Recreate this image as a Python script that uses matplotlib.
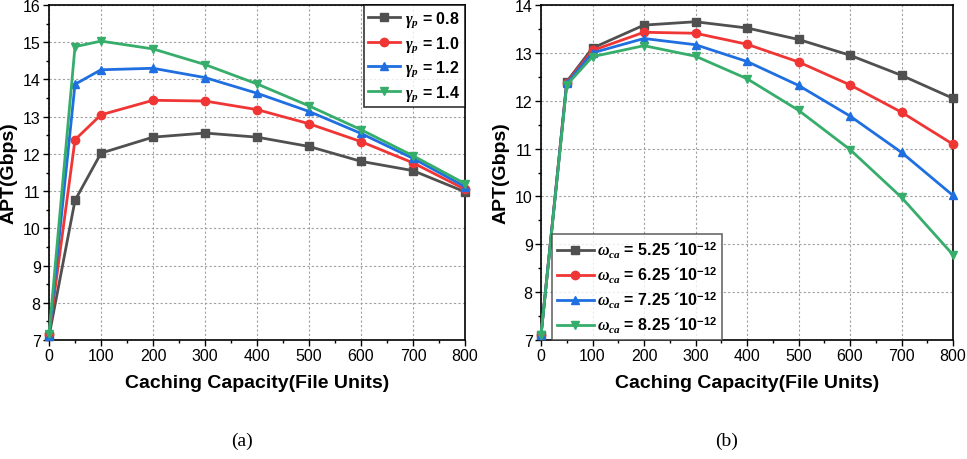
import matplotlib
matplotlib.use("Agg")
import matplotlib.pyplot as plt
from matplotlib.ticker import MultipleLocator

plt.rcParams['font.family'] = ['Liberation Sans', 'DejaVu Sans']
plt.rcParams['mathtext.fontset'] = 'custom'
plt.rcParams['mathtext.it'] = 'Liberation Serif:italic:bold'
plt.rcParams['mathtext.rm'] = 'Liberation Sans:bold'

capacity = [0, 50, 100, 200, 300, 400, 500, 600, 700, 800]

# panel (a): different gamma_p
gamma_labels = ['0.8', '1.0', '1.2', '1.4']
apt_g08 = [7.10, 10.75, 12.02, 12.45, 12.56, 12.45, 12.20, 11.80, 11.55, 10.98]
apt_g10 = [7.15, 12.38, 13.05, 13.44, 13.42, 13.19, 12.81, 12.33, 11.76, 11.05]
apt_g12 = [7.10, 13.87, 14.26, 14.30, 14.05, 13.63, 13.14, 12.55, 11.88, 11.12]
apt_g14 = [7.15, 14.88, 15.03, 14.82, 14.40, 13.88, 13.29, 12.65, 11.95, 11.20]

# panel (b): different omega_ca
omega_labels = ['5.25', '6.25', '7.25', '8.25']
apt_w525 = [7.10, 12.40, 13.10, 13.58, 13.65, 13.52, 13.28, 12.95, 12.53, 12.05]
apt_w625 = [7.10, 12.38, 13.05, 13.43, 13.41, 13.18, 12.81, 12.33, 11.76, 11.09]
apt_w725 = [7.10, 12.36, 13.00, 13.30, 13.17, 12.82, 12.32, 11.68, 10.92, 10.02]
apt_w825 = [7.10, 12.33, 12.92, 13.15, 12.93, 12.46, 11.80, 10.98, 9.98, 8.78]

colors = ['#505050', '#f03535', '#1f6fe0', '#36ad6a']
markers = ['s', 'o', '^', 'v']

W, H = 967, 460
fig = plt.figure(figsize=(W / 100, H / 100), dpi=100)
ax1 = fig.add_axes([49 / W, 1 - 341 / H, 416 / W, 335 / H])
ax2 = fig.add_axes([541 / W, 1 - 341 / H, 412 / W, 335 / H])


def style(ax, ymin, ymax):
    ax.set_xlim(0, 800)
    ax.set_ylim(ymin, ymax)
    ax.xaxis.set_major_locator(MultipleLocator(100))
    ax.xaxis.set_minor_locator(MultipleLocator(50))
    ax.yaxis.set_major_locator(MultipleLocator(1))
    ax.yaxis.set_minor_locator(MultipleLocator(0.5))
    ax.grid(True, which='major', linestyle=(0, (2, 2)), color='#a0a0a0', linewidth=0.8)
    ax.tick_params(which='major', direction='out', length=4, width=1, labelsize=11.5, pad=2)
    ax.tick_params(which='minor', direction='out', length=2.5, width=1)
    for s in ax.spines.values():
        s.set_linewidth(1.2)
    ax.set_xlabel('Caching Capacity(File Units)', fontsize=14, fontweight='bold', labelpad=8)
    ax.set_ylabel('APT(Gbps)', fontsize=14, fontweight='bold', labelpad=4)


series_a = [apt_g08, apt_g10, apt_g12, apt_g14]
for i, ys in enumerate(series_a):
    ax1.plot(capacity, ys, color=colors[i], marker=markers[i], markersize=6,
             linewidth=2, clip_on=False, zorder=3,
             label=r'$\gamma_p$ = ' + gamma_labels[i])
style(ax1, 7, 16)
leg1 = ax1.legend(loc='upper right', prop={'weight': 'bold', 'size': 11.5},
                  frameon=True, fancybox=False, edgecolor='black', borderaxespad=0,
                  handlelength=2.0, handletextpad=0.3, labelspacing=0.3, borderpad=0.3)
leg1.get_frame().set_linewidth(1.2)

series_b = [apt_w525, apt_w625, apt_w725, apt_w825]
for i, ys in enumerate(series_b):
    ax2.plot(capacity, ys, color=colors[i], marker=markers[i], markersize=6,
             linewidth=2, clip_on=False, zorder=3,
             label=r'$\omega_{ca}$ = ' + omega_labels[i] + ' \u00b4' + r'10$^{-12}$')
style(ax2, 7, 14)
leg2 = ax2.legend(loc='lower left', bbox_to_anchor=(0.027, 0.0),
                  prop={'weight': 'bold', 'size': 11.5},
                  frameon=True, fancybox=False, edgecolor='#444444', borderaxespad=0,
                  handlelength=2.3, handletextpad=0.2, labelspacing=0.3, borderpad=0.3)
leg2.get_frame().set_linewidth(1.2)

fig.text(242 / W, 1 - 441 / H, '(a)', family='Liberation Serif', fontsize=14, ha='center', va='center')
fig.text(727 / W, 1 - 441 / H, '(b)', family='Liberation Serif', fontsize=14, ha='center', va='center')

fig.savefig('out.png', dpi=100)
